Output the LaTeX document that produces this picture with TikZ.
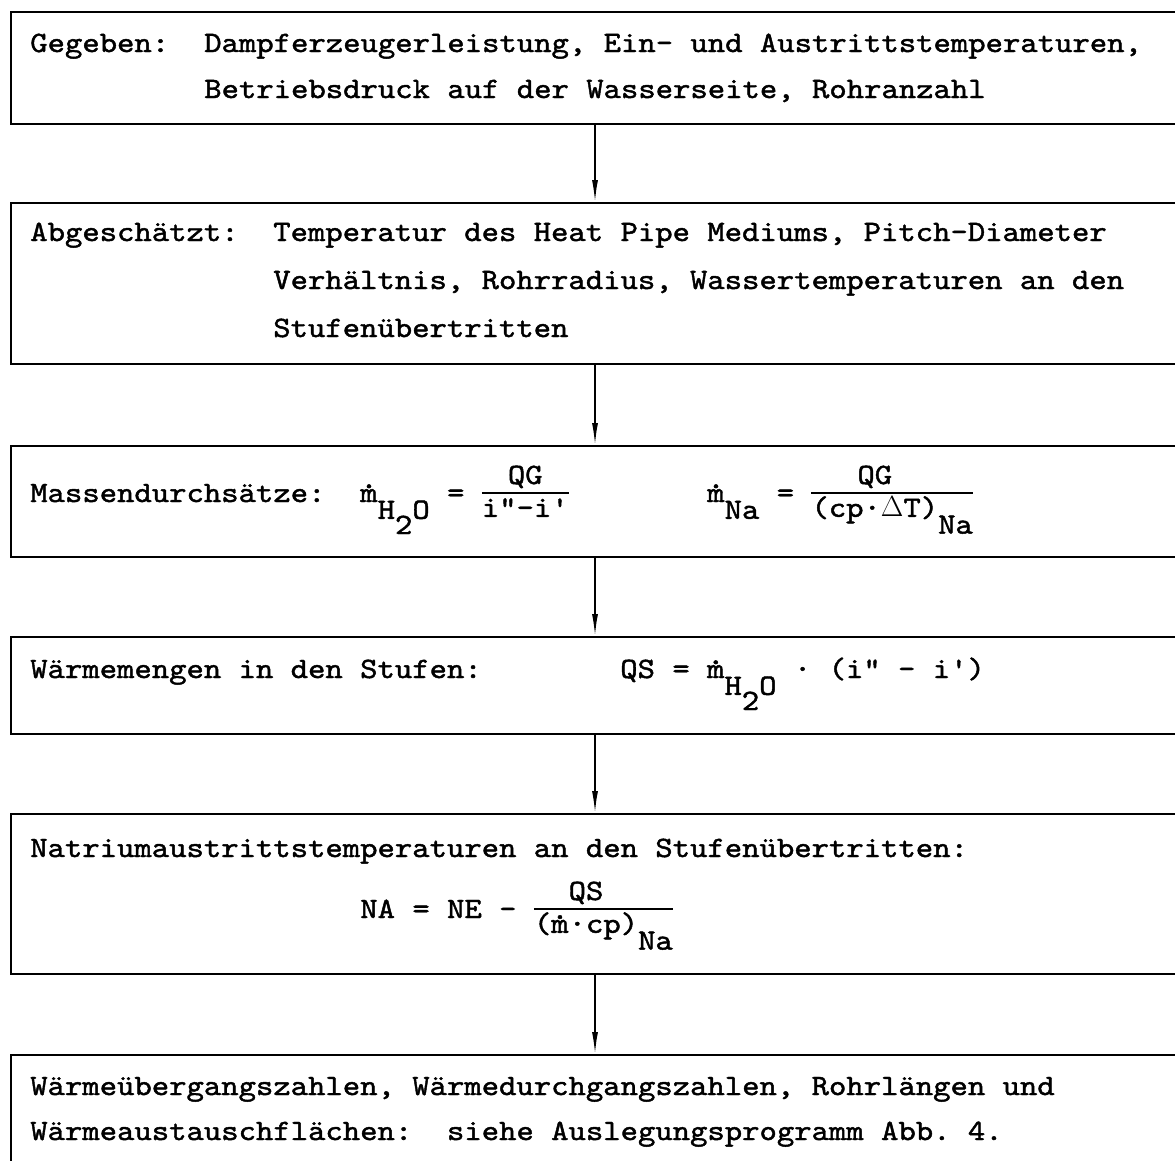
\documentclass[tikz,border=0pt]{standalone}
\usepackage{fontspec}
\setmonofont{lmmono10-regular.otf}[FakeStretch=1.12, FakeBold=1.5]
\usetikzlibrary{arrows.meta}

% typewriter helpers
\newsavebox\fracnum
\newsavebox\fracden
\newcommand\mdot{\ooalign{m\cr\raisebox{.47em}{.}\cr}}
\newcommand\halfdown[1]{\raisebox{-0.42cm}{#1}}
\newcommand\fulldown[1]{\raisebox{-0.8cm}{#1}}
\newcommand\typefrac[2]{%
  \sbox\fracnum{#1}\sbox\fracden{#2}%
  \rlap{\makebox[\wd\fracden]{\raisebox{0.45cm}{\usebox\fracnum}}}%
  \rlap{\rule[0.21cm]{\wd\fracden}{1.3pt}}%
  \raisebox{-0.37cm}{\usebox\fracden}}

\begin{document}
\begin{tikzpicture}[x=0.025cm, y=-0.025cm,
  stage/.style={rectangle, draw, line width=1.7pt, anchor=north west, minimum width=29.5cm, inner sep=0pt},
  txt/.style={anchor=base west, inner sep=0pt, font=\ttfamily\fontsize{21}{25}\selectfont},
  arrow/.style={-{Latex[length=5.5mm, width=1.5mm]}, line width=1.1pt}
]
\useasboundingbox (0,0) rectangle (1175,1160);
\clip (0,0) rectangle (1175,1160);
\coordinate (spine) at (595,0);

% boxes
\node[stage, minimum height=2.8cm] (given) at (10,11) {};
\node[stage, minimum height=4.025cm] (estim) at (10,202) {};
\node[stage, minimum height=2.775cm] (mflow) at (10,445) {};
\node[stage, minimum height=2.425cm] (qstep) at (10,636) {};
\node[stage, minimum height=4.0cm] (natemp) at (10,813) {};
\node[stage, minimum height=3.75cm] (result) at (10,1054) {};

\foreach \a/\b in {given/estim, estim/mflow, mflow/qstep, qstep/natemp, natemp/result}
  \draw[arrow] (\a.south -| spine) -- (\b.north -| spine);

% texts
\node[txt] (givenlbl) at (30,52) {Gegeben:};
\node[txt] (given1) at (204,52) {Dampferzeugerleistung, Ein- und Austrittstemperaturen,};
\node[txt] (given2) at (204,98) {Betriebsdruck auf der Wasserseite, Rohranzahl};

\node[txt] (estimlbl) at (30,241) {Abgeschätzt:};
\node[txt] (estim1) at (273,241) {Temperatur des Heat Pipe Mediums, Pitch-Diameter};
\node[txt] (estim2) at (273,289) {Verhältnis, Rohrradius, Wassertemperaturen an den};
\node[txt] (estim3) at (273,337) {Stufenübertritten};

\node[txt] (mflowlbl) at (30,502) {Massendurchsätze:};
\node[txt] (mwater) at (360,502) {\mdot\halfdown{H}\fulldown{2}\halfdown{O} = \typefrac{QG}{i"-i'}};
\node[txt] (msodium) at (707,502) {\mdot\halfdown{Na} = \typefrac{QG\phantom{Na}}{(cp·$\Delta$T)\halfdown{Na}}};

\node[txt] (qsteplbl) at (30,678) {Wärmemengen in den Stufen:};
\node[txt] (qsform) at (620,678) {QS = \mdot\halfdown{H}\fulldown{2}\halfdown{O} · (i" - i')};

\node[txt] (natemplbl) at (30,857) {Natriumaustrittstemperaturen an den Stufenübertritten:};
\node[txt] (naform) at (360,918) {NA = NE - \typefrac{QS\phantom{Na}}{(\mdot·cp)\halfdown{Na}}};

\node[txt] (result1) at (30,1095) {Wärmeübergangszahlen, Wärmedurchgangszahlen, Rohrlängen und};
\node[txt] (result2) at (30,1140) {Wärmeaustauschflächen:\ \ siehe Auslegungsprogramm Abb. 4.};
\end{tikzpicture}
\end{document}
